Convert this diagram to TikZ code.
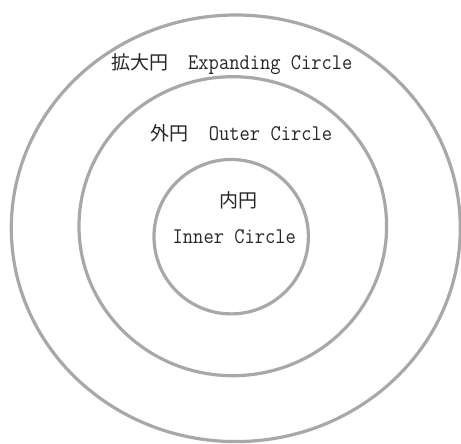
\documentclass[tikz,border=0pt]{standalone}
\usepackage{fontspec}
\setmonofont[FakeStretch=0.89]{Latin Modern Mono}
\newfontfamily\cjk{Noto Sans CJK JP}
\usepackage{xcolor}
\usetikzlibrary{positioning}
\definecolor{ringgray}{RGB}{168,168,172}

\begin{document}
\begin{tikzpicture}[x=1pt, y=-1pt,
    ring/.style={draw=ringgray, line width=3.2pt},
    ringlabel/.style={anchor=base west, inner sep=0pt, text=black!85,
      font=\ttfamily\fontsize{22.4}{23}\selectfont}]
  \useasboundingbox (0,0) rectangle (461,444);
  % ---- the three circles
  \draw[ring] (235.8,228.3) ellipse [x radius=224.5, y radius=213.3];
  \draw[ring] (232.8,226.2) ellipse [x radius=153.8, y radius=149.5];
  \draw[ring] (231.2,236.7) circle (77.2);
  % ---- labels
  \node[ringlabel] (expanding) at (111,70)
    {{\cjk\fontsize{19}{19}\selectfont 拡大円}\hspace{20pt}Expanding Circle};
  \node[ringlabel] (outer) at (150.7,140.5)
    {{\cjk\fontsize{19}{19}\selectfont 外円}\hspace{20pt}Outer Circle};
  \node[ringlabel, font=\cjk\fontsize{19}{19}\selectfont] (innerjp) at (219.7,207) {内円};
  \node[ringlabel] (inner) at (172.5,243.5) {Inner Circle};
\end{tikzpicture}
\end{document}
